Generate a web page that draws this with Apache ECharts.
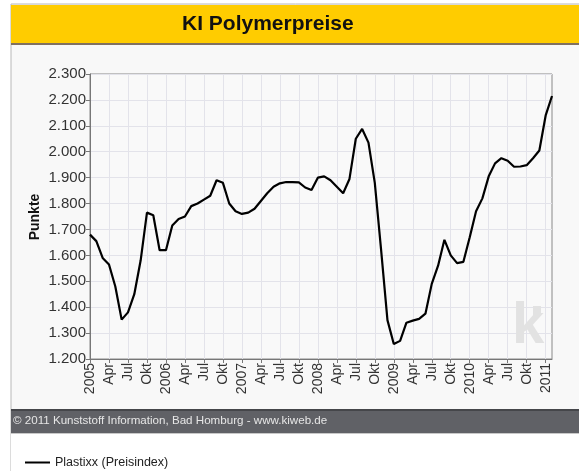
<!DOCTYPE html>
<html>
<head>
<meta charset="utf-8">
<script src="https://cdn.jsdelivr.net/npm/echarts@6/dist/echarts.min.js"></script>
<style>
  html, body { margin: 0; padding: 0; background: #ffffff; }
  #chart { width: 579px; height: 471px; }
</style>
</head>
<body>
<div id="chart"></div>
<script>
// Plastixx price index, monthly, Jan 2005 – Feb 2011
const years = [2005, 2006, 2007, 2008, 2009, 2010, 2011];
const quarterLabels = ['Apr', 'Jul', 'Okt'];
const values2005 = [1680, 1655, 1590, 1565, 1480, 1352, 1380, 1450, 1580, 1765, 1755, 1620];
const values2006 = [1620, 1715, 1740, 1750, 1790, 1800, 1815, 1830, 1890, 1880, 1800, 1770];
const values2007 = [1760, 1765, 1780, 1810, 1840, 1865, 1878, 1883, 1883, 1882, 1862, 1852];
const values2008 = [1900, 1905, 1890, 1865, 1840, 1895, 2050, 2088, 2035, 1880, 1620, 1350];
const values2009 = [1258, 1270, 1340, 1348, 1355, 1375, 1490, 1560, 1660, 1600, 1570, 1575];
const values2010 = [1670, 1770, 1820, 1905, 1955, 1975, 1965, 1942, 1943, 1948, 1975, 2005];
const values2011 = [2140, 2215];
const yTicks = { min: 1200, max: 2300, step: 100 };

const values = [].concat(values2005, values2006, values2007, values2008, values2009, values2010, values2011);

// one category per month; quarter starts carry a label
const categories = [];
values.forEach(function (v, i) {
  const y = years[Math.floor(i / 12)];
  const m = i % 12;
  categories.push(m === 0 ? String(y) : (m % 3 === 0 ? quarterLabels[m / 3 - 1] : y + '-' + (m + 1)));
});

const font = 'Liberation Sans, Arial, sans-serif';
const chart = echarts.init(document.getElementById('chart'), null, { renderer: 'canvas' });

chart.setOption({
  animation: false,
  backgroundColor: '#ffffff',
  graphic: [
    // panel
    { type: 'rect', z: -10, shape: { x: 11, y: 4, width: 570, height: 467 },
      style: { fill: '#f8f8f8', stroke: '#b8b8b8', lineWidth: 1 } },
    // title bar
    { type: 'rect', z: -5, shape: { x: 11, y: 5, width: 570, height: 39 },
      style: { fill: '#ffcc00' } },
    { type: 'rect', z: -5, shape: { x: 11, y: 43, width: 570, height: 2 },
      style: { fill: '#807060' } },
    { type: 'text', left: 182, top: 14, z: 2,
      style: { text: 'KI Polymerpreise', fill: '#111', font: 'bold 21px ' + font } },
    // y axis title
    { type: 'text', x: 35, y: 217, rotation: Math.PI / 2, z: 2,
      style: { text: 'Punkte', fill: '#111', font: 'bold 14px ' + font,
               align: 'center', verticalAlign: 'middle' } },
    // footer bar
    { type: 'rect', z: -5, shape: { x: 11, y: 410, width: 570, height: 23 },
      style: { fill: '#606166' } },
    { type: 'rect', z: -5, shape: { x: 11, y: 409, width: 570, height: 2 },
      style: { fill: '#45464a' } },
    { type: 'rect', z: -5, shape: { x: 11, y: 433, width: 570, height: 38 },
      style: { fill: '#ffffff' } },
    { type: 'rect', z: -4, shape: { x: 11, y: 433, width: 570, height: 1 },
      style: { fill: '#c8c8c8' } },
    { type: 'text', left: 13, top: 415,
      style: { text: '\u00a9 2011 Kunststoff Information, Bad Homburg - www.kiweb.de',
               fill: '#e6e6e6', font: '11.6px ' + font } },
    // watermark logo
    { type: 'text', left: 512, top: 298, z: 1,
      style: { text: 'k', fill: '#e2e2e2', font: '900 58px ' + font } },
    { type: 'rect', z: 1, shape: { x: 533, y: 306, width: 8, height: 9 },
      style: { fill: '#e2e2e2' } }
  ],
  legend: {
    left: 20,
    top: 451,
    itemWidth: 25,
    itemHeight: 2,
    itemGap: 6,
    icon: 'rect',
    textStyle: { fontFamily: font, fontSize: 12.5, color: '#222' },
    data: [{ name: 'Plastixx (Preisindex)', itemStyle: { color: '#000' } }]
  },
  grid: { left: 90, right: 27, top: 74, bottom: 112, show: true, borderColor: '#888', borderWidth: 1, backgroundColor: '#f9f9f9' },
  xAxis: {
    type: 'category',
    data: categories,
    boundaryGap: false,
    axisLine: { show: true, lineStyle: { color: '#777', width: 1 } },
    axisTick: { show: true, interval: 2, length: 4, lineStyle: { color: '#777' } },
    axisLabel: {
      interval: 2, rotate: 90, margin: 4,
      fontFamily: font, fontSize: 14, color: '#333'
    },
    splitLine: { show: true, interval: 2, lineStyle: { color: '#e3e3ea', width: 1 } }
  },
  yAxis: {
    type: 'value',
    min: yTicks.min,
    max: yTicks.max,
    interval: yTicks.step,
    axisLine: { show: true, lineStyle: { color: '#777', width: 1 } },
    axisTick: { show: true, length: 4, lineStyle: { color: '#777' } },
    axisLabel: {
      fontFamily: font, fontSize: 15, color: '#333', margin: 4,
      formatter: function (v) { return (v / 1000).toFixed(3); }
    },
    splitLine: { show: true, lineStyle: { color: '#e3e3ea', width: 1 } }
  },
  series: [{
    name: 'Plastixx (Preisindex)',
    type: 'line',
    data: values,
    showSymbol: false,
    lineStyle: { color: '#000', width: 2.2 },
    itemStyle: { color: '#000' },
    z: 3
  }]
});
</script>
</body>
</html>
